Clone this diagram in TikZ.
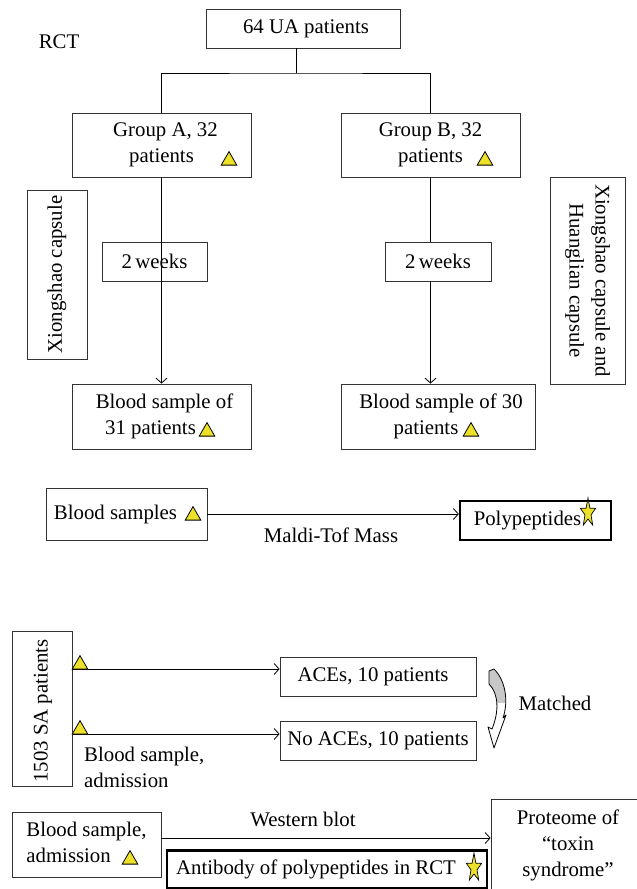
\documentclass[tikz,border=0pt]{standalone}
\usepackage{fontspec}
\setmainfont{Liberation Serif}
\usetikzlibrary{arrows.meta,shapes.geometric}
\definecolor{yel}{RGB}{236,224,40}
\definecolor{mgray}{RGB}{200,200,200}
\tikzset{
  box/.style={draw=black!80, line width=0.8pt, inner sep=0pt, align=center, font=\fontsize{20.8}{26}\selectfont},
  thickbox/.style={box, line width=2.3pt, draw=black},
  lbl/.style={inner sep=0pt, font=\fontsize{20.8}{26}\selectfont},
  tri/.style={regular polygon, regular polygon sides=3, minimum size=18pt, inner sep=0pt, draw=black, line width=0.8pt, fill=yel},
  arr/.style={line width=0.8pt, -{Straight Barb[length=5pt,width=11pt,line width=0.8pt]}},
  ln/.style={line width=0.8pt},
  ystar/.pic={\draw[fill=yel, line width=0.7pt] (0,-15) \foreach \k in {1,...,5}{ -- ({3.2*cos(-90+72*\k-36)},{6*sin(-90+72*\k-36)}) -- ({8*cos(-90+72*\k)},{15*sin(-90+72*\k)}) } -- cycle;}
}
\begin{document}
\begin{tikzpicture}[x=1pt,y=-1pt]
\clip (0,0) rectangle (637,889);
\fill[white] (0,0) rectangle (637,889);
% top RCT part
\node[lbl] (rct) at (59,42) {RCT};
\node[box, minimum width=194pt, minimum height=39pt] (ua) at (303,28.5) {\hspace*{6pt}64 UA patients};
\node[box, minimum width=179pt, minimum height=64pt] (ga) at (161.5,145) {\hspace*{8pt}Group A, 32\\patients};
\node[box, minimum width=179pt, minimum height=64pt] (gb) at (430.5,145) {Group B, 32\\patients};
\node[tri] (tga) at (229,160.6) {};
\node[tri] (tgb) at (485,160.6) {};
\node[box, minimum width=105pt, minimum height=39pt] (wa) at (154.5,261.5) {2\,weeks};
\node[box, minimum width=106pt, minimum height=39pt] (wb) at (438,261.5) {2\,weeks};
\node[box, minimum width=60pt, minimum height=169pt] (xa) at (57,274.5) {};
\node[lbl, rotate=90] (xat) at (xa.center) {Xiongshao capsule};
\node[box, minimum width=75pt, minimum height=207pt] (xb) at (587.5,280.5) {};
\node[lbl, rotate=-90, align=center] (xbt) at (xb.center) {Xiongshao capsule and\\Huanglian capsule};
\node[box, minimum width=179pt, minimum height=65pt] (ba) at (161.5,416.5) {\hspace*{6pt}Blood sample of\\31 patients\hspace*{22pt}};
\node[box, minimum width=194pt, minimum height=65pt] (bb) at (438,416.5) {\hspace*{6pt}Blood sample of 30\\patients\hspace*{24pt}};
\node[tri] (tba) at (207,431.6) {};
\node[tri] (tbb) at (471,431.6) {};
\coordinate (j) at (296,73);
\draw[ln] (ua.south -| j) -- (j);
\draw[ln] (ga.north) |- (j) -| (gb.north);
\draw[arr] (ga.south) -- (ga.south |- ba.north);
\draw[ln] (gb.south) -- (gb.south |- wb.north);
\draw[arr] (gb.south |- wb.south) -- (gb.south |- bb.north);
% Maldi
\node[box, minimum width=161pt, minimum height=52pt] (bs) at (126.5,514) {Blood samples\hspace*{22pt}};
\node[tri] (tbs) at (193,515.6) {};
\node[thickbox, minimum width=151pt, minimum height=39pt] (pp) at (535.5,520.5) {Polypeptides\hspace*{16pt}};
\pic at (588,513) {ystar};
\draw[arr] (bs.east) -- (bs.east -| pp.west);
\node[lbl] (maldi) at (331,535) {Maldi-Tof Mass};
% SA part
\node[box, minimum width=60pt, minimum height=155pt] (sa) at (42,708.5) {};
\node[lbl, rotate=90] (sat) at (43,711) {1503 SA patients};
\node[box, minimum width=196pt, minimum height=39pt] (ace) at (378,676.5) {ACEs, 10 patients\hspace*{10pt}};
\node[box, minimum width=196pt, minimum height=39pt] (nace) at (378,740.5) {No ACEs, 10 patients};
\draw[arr] ([yshift=39.5pt]sa.east) -- ([yshift=39.5pt]sa.east -| ace.west);
\draw[arr] ([yshift=-25.5pt]sa.east) -- ([yshift=-25.5pt]sa.east -| nace.west);
\node[tri] (ts1) at (80,664.6) {};
\node[tri] (ts2) at (80,729.6) {};
\node[lbl, anchor=west, align=left] (bsadm) at (84,767) {Blood sample,\\admission};
% matched curved arrow
\def\mpath{(489,671) -- (494,669) .. controls (505,680) and (509,700) .. (503,718) -- (506,715) -- (494,748) -- (488,727) -- (492,729) .. controls (499,712) and (499,694) .. (489,684) -- cycle}
\fill[white] \mpath;
\begin{scope}
\clip (480,660) rectangle (520,702);
\fill[mgray] \mpath;
\end{scope}
\draw[line width=0.8pt, line join=round] \mpath;
\node[lbl] (matched) at (555,703) {Matched};
% bottom
\node[box, minimum width=149pt, minimum height=65pt] (bsa) at (86.5,844.5) {\begin{tabular}{@{}l@{}}Blood sample,\\admission\hspace*{30pt}\end{tabular}};
\node[tri] (tbsa) at (130,859.6) {};
\node[box, minimum width=158pt, minimum height=102pt] (pr) at (570,850) {};
\node[lbl, align=center] (prt) at (568,845) {Proteome of\\“toxin\\syndrome”};
\node[thickbox, minimum width=320pt, minimum height=38pt] (ab) at (327,869.5) {Antibody of polypeptides in RCT\hspace*{22pt}};
\pic at (474,868) {ystar};
\draw[arr] ([yshift=6.5pt]bsa.east) -- ([yshift=6.5pt]bsa.east -| pr.west);
\node[lbl] (wbl) at (303,819) {Western blot};
\end{tikzpicture}
\end{document}
